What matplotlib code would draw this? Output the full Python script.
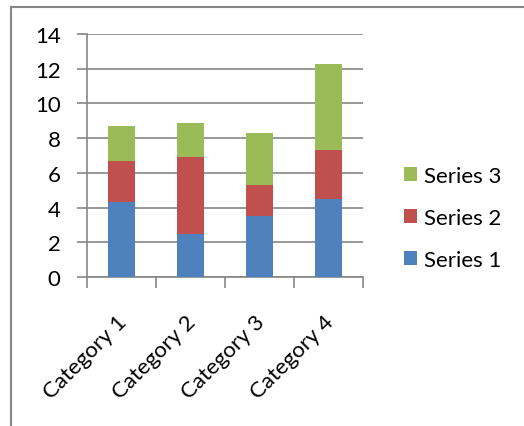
import matplotlib
matplotlib.use('Agg')
import matplotlib.pyplot as plt
import matplotlib.transforms as mtransforms
from matplotlib.lines import Line2D
import numpy as np

# Chart data
categories = ['Category 1', 'Category 2', 'Category 3', 'Category 4']
series1 = [4.3, 2.5, 3.5, 4.5]
series2 = [2.4, 4.4, 1.8, 2.8]
series3 = [2.0, 2.0, 3.0, 5.0]
series_names = ['Series 1', 'Series 2', 'Series 3']
colors = ['#4F81BD', '#C0504D', '#9BBB59']
yticks = [0, 2, 4, 6, 8, 10, 12, 14]

plt.rcParams['font.family'] = ['Lato', 'DejaVu Sans']
fs = 16

fig = plt.figure(figsize=(5.24, 4.27), dpi=100)
ax = fig.add_axes([0.166, 0.349, 0.527, 0.569])

x = np.arange(len(categories))
bottom = np.zeros(len(categories))
bars = []
for vals, name, c in zip([series1, series2, series3], series_names, colors):
    b = ax.bar(x, vals, width=0.4, bottom=bottom, color=c, label=name, zorder=3)
    bars.append(b)
    bottom += np.array(vals)

grid_col = '#868686'
ax.set_ylim(0, 14)
ax.set_xlim(-0.5, 3.5)
ax.set_yticks(yticks)
ax.yaxis.grid(True, color=grid_col, linewidth=1.2, zorder=0)
ax.set_axisbelow(True)

for s in ['top', 'right']:
    ax.spines[s].set_visible(False)
for s in ['left', 'bottom']:
    ax.spines[s].set_color(grid_col)
    ax.spines[s].set_linewidth(1.2)

# category boundary ticks
ax.set_xticks(np.arange(-0.5, 4.0, 1.0))
ax.set_xticklabels([])
ax.set_xticks(x, minor=True)
ax.set_xticklabels(categories, minor=True, rotation=45, ha='right',
                   rotation_mode='anchor', fontsize=fs)
ax.tick_params(axis='x', which='minor', length=0, pad=25)
ax.tick_params(axis='x', which='major', length=8, color=grid_col, width=1.2)
ax.tick_params(axis='y', length=7, color=grid_col, width=1.2, labelsize=fs, pad=12)

# nudge category labels left a little
shift = mtransforms.ScaledTranslation(-5 / 100, 0, fig.dpi_scale_trans)
for lbl in ax.get_xticklabels(minor=True):
    lbl.set_transform(lbl.get_transform() + shift)

handles = [bars[2], bars[1], bars[0]]
labels = ['Series 3', 'Series 2', 'Series 1']
fig.legend(handles, labels, loc='center left', bbox_to_anchor=(404 / 524, 0.487),
           frameon=False, fontsize=fs, handlelength=0.6, handleheight=0.6,
           handletextpad=0.32, labelspacing=1.0, borderpad=0, borderaxespad=0)

# outer chart frame (left and top edges visible)
fig.add_artist(Line2D([11 / 524, 11 / 524], [0, 1 - 8 / 427], color=grid_col,
                      linewidth=1.5, transform=fig.transFigure))
fig.add_artist(Line2D([11 / 524, 1], [1 - 8 / 427, 1 - 8 / 427], color=grid_col,
                      linewidth=1.5, transform=fig.transFigure))

fig.savefig('out.png', dpi=100)
